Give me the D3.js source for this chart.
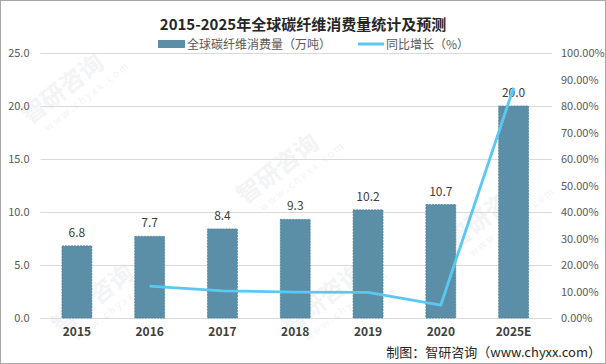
<!DOCTYPE html>
<html><head><meta charset="utf-8">
<script src="https://cdn.jsdelivr.net/npm/d3@7"></script>
<style>body{margin:0;background:#fff}svg{display:block}text{font-family:"Noto Sans CJK SC","Noto Sans",sans-serif}</style>
</head><body><svg id="c" width="606" height="364"></svg>
<script>
const categories = ["2015","2016","2017","2018","2019","2020","2025E"];
const consumption = [6.8, 7.7, 8.4, 9.3, 10.2, 10.7, 20.0];
const growth = [null, 12.0, 10.2, 9.8, 9.7, 4.9, 86.9];
const leftTicks = [0, 5, 10, 15, 20, 25];
const rightTicks = [0,10,20,30,40,50,60,70,80,90,100];
const title = "2015-2025年全球碳纤维消费量统计及预测";
const seriesNames = ["全球碳纤维消费量（万吨）", "同比增长（%）"];
const source = "制图：智研咨询（www.chyxx.com）";

const svg = d3.select("#c");
const W = 606, H = 364;
const m = {l:40.5, r:550, t:53, b:318};
svg.append("rect").attr("x",0.5).attr("y",0.5).attr("width",W-1).attr("height",H-1).attr("fill","#fff").attr("stroke","#a6a6a6");

// watermarks (kept fully inside)
const wm = [[30,125],[245,205],[455,250],[60,335],[290,335]];
wm.forEach(([x,y])=>{
  const g = svg.append("g").attr("transform",`translate(${x},${y}) rotate(-38)`).attr("opacity",0.45);
  g.append("text").text("智研咨询").attr("font-size",24).attr("font-weight","bold").attr("fill","#e3e7ea");
  g.append("text").text("w w w . c h y x x . c o m").attr("y",16).attr("x",10).attr("font-size",10).attr("fill","#e3e7ea");
});

const x = d3.scaleBand().domain(categories).range([m.l, m.r]).paddingInner(0.59).paddingOuter(0.295);
const y = d3.scaleLinear().domain([0,25]).range([m.b, m.t]);
const y2 = d3.scaleLinear().domain([0,100]).range([m.b, m.t]);

// grid
svg.append("g").selectAll("line").data(leftTicks).join("line")
  .attr("x1",m.l).attr("x2",552).attr("y1",d=>Math.round(y(d))+0.5).attr("y2",d=>Math.round(y(d))+0.5)
  .attr("stroke","#d9d9d9");

// left axis
const la = svg.append("g").attr("transform",`translate(${m.l},0)`)
  .call(d3.axisLeft(y).tickValues(leftTicks).tickFormat(d3.format(".1f")).tickSize(0).tickPadding(11));
la.select(".domain").remove();
la.selectAll("text").attr("font-size",11).attr("fill","#595959");

// right axis
const ra = svg.append("g").attr("transform",`translate(${m.r},0)`)
  .call(d3.axisRight(y2).tickValues(rightTicks).tickFormat(d=>d.toFixed(2)+"%").tickSize(0).tickPadding(11));
ra.select(".domain").remove();
ra.selectAll("text").attr("font-size",11).attr("fill","#595959");

// x axis
const xa = svg.append("g").attr("transform",`translate(0,${m.b})`)
  .call(d3.axisBottom(x).tickSize(0).tickPadding(9));
xa.select(".domain").remove();
xa.selectAll("text").attr("font-size",12).attr("font-weight","bold").attr("fill","#404040");

// bars
svg.append("g").selectAll("rect").data(consumption).join("rect")
  .attr("x",(d,i)=>x(categories[i])).attr("width",x.bandwidth())
  .attr("y",d=>y(d)).attr("height",d=>m.b-y(d))
  .attr("fill","#5b8fa8").attr("stroke","#4d7d94").attr("stroke-width",0.8).attr("stroke-dasharray","2,1");

svg.append("g").selectAll("text").data(consumption).join("text")
  .attr("x",(d,i)=>x(categories[i])+x.bandwidth()/2).attr("y",d=>y(d)-9)
  .attr("text-anchor","middle").attr("font-size",12).attr("fill","#404040")
  .text(d=>d.toFixed(1));

// line
const pts = growth.map((g,i)=>({g,c:categories[i]})).filter(p=>p.g!==null);
svg.append("path").datum(pts)
  .attr("d", d3.line().x(p=>x(p.c)+x.bandwidth()/2).y(p=>y2(p.g)))
  .attr("fill","none").attr("stroke","#5bc8f2").attr("stroke-width",2.8).attr("stroke-linejoin","round");

// title
svg.append("text").attr("x",303).attr("y",30).attr("text-anchor","middle")
  .attr("font-size",15).attr("font-weight","bold").attr("fill","#262626").text(title);

// legend
svg.append("rect").attr("x",158).attr("y",40).attr("width",27).attr("height",8).attr("fill","#5b8fa8");
svg.append("text").attr("x",187).attr("y",48.5).attr("font-size",12).attr("fill","#595959").text(seriesNames[0]);
svg.append("line").attr("x1",358).attr("x2",384).attr("y1",44).attr("y2",44).attr("stroke","#5bc8f2").attr("stroke-width",3);
svg.append("text").attr("x",386).attr("y",48.5).attr("font-size",12).attr("fill","#595959").text(seriesNames[1]);

// source
svg.append("text").attr("x",601).attr("y",357).attr("text-anchor","end").attr("font-size",13).attr("fill","#262626").text(source);
</script></body></html>
